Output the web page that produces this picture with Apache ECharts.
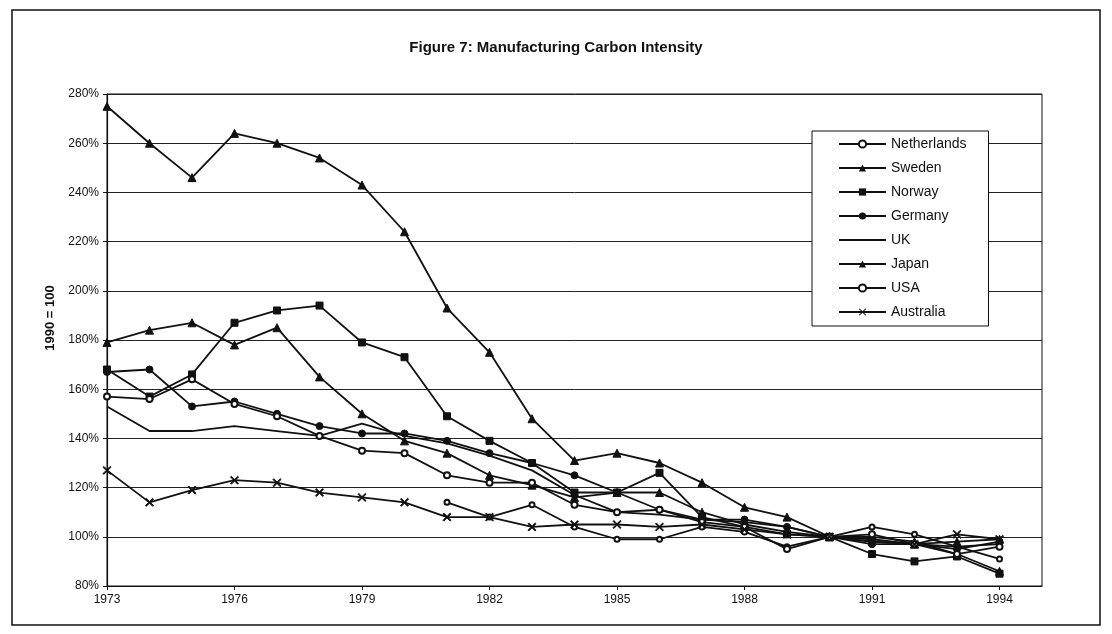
<!DOCTYPE html>
<html>
<head>
<meta charset="utf-8">
<script src="https://cdn.jsdelivr.net/npm/echarts@6/dist/echarts.min.js"></script>
<style>
  html, body { margin: 0; padding: 0; background: #fff; }
  #chart { width: 1112px; height: 634px; }
</style>
</head>
<body>
<div id="chart"></div>
<script>
// years on the axis; 1995 is an empty slot so the plot runs one step past 1994
const years = ['1973', '1974', '1975', '1976', '1977', '1978', '1979', '1980', '1981', '1982', '1983',
  '1984', '1985', '1986', '1987', '1988', '1989', '1990', '1991', '1992', '1993', '1994', '1995']

// manufacturing carbon intensity, 1990 = 100
const netherlands = [null, null, null, null, null, null, null, null, 114, 108, 113, 104, 99, 99, 104, 102, 96, 100, 104, 101, 96, 91]
const sweden = [275, 260, 246, 264, 260, 254, 243, 224, 193, 175, 148, 131, 134, 130, 122, 112, 108, 100, 99, 97, 98, 99]
const norway = [168, 157, 166, 187, 192, 194, 179, 173, 149, 139, 130, 118, 118, 126, 108, 104, 101, 100, 93, 90, 92, 85]
const germany = [167, 168, 153, 155, 150, 145, 142, 142, 139, 134, 130, 125, 118, 111, 107, 107, 104, 100, 97, 97, 95, 98]
const uk = [153, 143, 143, 145, 143, 141, 146, 141, 138, 133, 127, 117, 110, 109, 107, 106, 104, 100, 98, 97, 96, 97]
const japan = [179, 184, 187, 178, 185, 165, 150, 139, 134, 125, 121, 116, 118, 118, 110, 105, 102, 100, 100, 98, 93, 86]
const usa = [157, 156, 164, 154, 149, 141, 135, 134, 125, 122, 122, 113, 110, 111, 106, 104, 95, 100, 101, 97, 93, 96]
const australia = [127, 114, 119, 123, 122, 118, 116, 114, 108, 108, 104, 105, 105, 104, 105, 103, 101, 100, 98, 97, 101, 99]

const yTicks = { min: 80, max: 280, step: 20 }

const crossPath = 'path://M0,1L1,0L5,4L9,0L10,1L6,5L10,9L9,10L5,6L1,10L0,9L4,5Z'

const seriesDefs = [
  { name: 'Netherlands', data: netherlands, symbol: 'emptyCircle', size: 5 },
  { name: 'Sweden', data: sweden, symbol: 'triangle', size: 8 },
  { name: 'Norway', data: norway, symbol: 'rect', size: 7 },
  { name: 'Germany', data: germany, symbol: 'circle', size: 7 },
  { name: 'UK', data: uk, symbol: 'none', size: 0 },
  { name: 'Japan', data: japan, symbol: 'triangle', size: 8 },
  { name: 'USA', data: usa, symbol: 'emptyCircle', size: 6 },
  { name: 'Australia', data: australia, symbol: crossPath, size: 8 },
]

const ink = '#111'
const font = '"Liberation Sans", Arial, sans-serif'

const chart = echarts.init(document.getElementById('chart'), null, { renderer: 'canvas' })

chart.setOption({
  backgroundColor: '#fff',
  animation: false,
  title: {
    text: 'Figure 7: Manufacturing Carbon Intensity',
    left: 'center',
    top: 35,
    textStyle: { fontFamily: font, fontSize: 15, fontWeight: 'bold', color: ink },
  },
  graphic: [
    {
      type: 'rect',
      shape: { x: 12, y: 10, width: 1088, height: 615 },
      style: { fill: 'none', stroke: ink, lineWidth: 1.5 },
      silent: true,
    },
  ],
  grid: {
    left: 107,
    right: 70,
    top: 94,
    bottom: 48,
    show: true,
    borderColor: ink,
    borderWidth: 1,
  },
  legend: {
    orient: 'vertical',
    left: 812,
    top: 131,
    padding: [5, 22, 6, 26],
    itemWidth: 47,
    itemHeight: 9,
    itemGap: 8,
    borderColor: ink,
    borderWidth: 1,
    backgroundColor: '#fff',
    textStyle: { fontFamily: font, fontSize: 14, color: ink, lineHeight: 16 },
    // UK has no marker, so hide the legend dot for it
    data: seriesDefs.map((s) => (s.symbol === 'none' ? { name: s.name, itemStyle: { opacity: 0 } } : s.name)),
  },
  xAxis: {
    type: 'category',
    data: years,
    boundaryGap: false,
    axisLine: { lineStyle: { color: ink, width: 1.2 } },
    axisTick: { interval: 2, length: 4, lineStyle: { color: ink } },
    axisLabel: { interval: 2, fontFamily: font, fontSize: 12, color: ink, margin: 8 },
    splitLine: { show: false },
  },
  yAxis: {
    type: 'value',
    min: yTicks.min,
    max: yTicks.max,
    interval: yTicks.step,
    name: '1990 = 100',
    nameLocation: 'middle',
    nameGap: 45,
    nameTextStyle: { fontFamily: font, fontSize: 13, fontWeight: 'bold', color: ink, padding: [0, 0, 0, 44] },
    axisLine: { show: true, lineStyle: { color: ink, width: 1.2 } },
    axisTick: { show: true, length: 4, lineStyle: { color: ink } },
    axisLabel: { formatter: '{value}%', fontFamily: font, fontSize: 12, color: ink, margin: 8 },
    splitLine: { show: true, lineStyle: { color: '#222', width: 1 } },
  },
  series: seriesDefs.map((s) => ({
    name: s.name,
    type: 'line',
    data: s.data,
    symbol: s.symbol,
    symbolSize: s.size,
    showSymbol: s.symbol !== 'none',
    connectNulls: false,
    lineStyle: { color: ink, width: 1.8 },
    itemStyle: { color: ink, borderColor: ink },
    emphasis: { disabled: true },
  })),
})
</script>
</body>
</html>
